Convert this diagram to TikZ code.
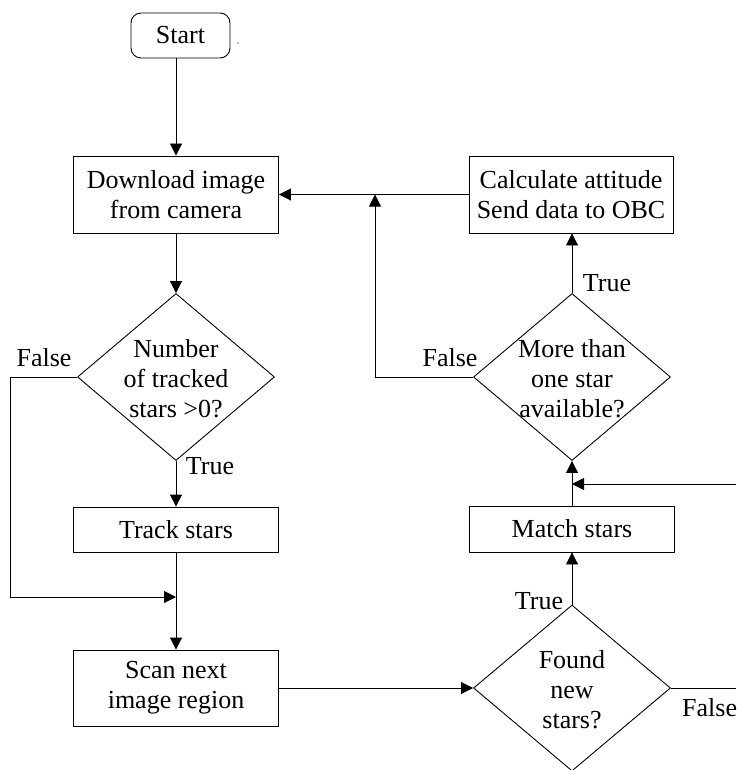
\documentclass[tikz,border=0pt]{standalone}
\usepackage{fontspec}
\setmainfont{Liberation Serif}
\usetikzlibrary{shapes.geometric,arrows.meta}
\begin{document}
\begin{tikzpicture}[x=1pt,y=-1pt,
  every node/.style={font=\fontsize{26}{30}\selectfont},
  box/.style={draw, line width=0.9pt, inner sep=0pt, align=center},
  dia/.style={draw, diamond, line width=0.9pt, inner sep=0pt, minimum width=197pt, minimum height=167pt},
  dtext/.style={inner sep=0pt, align=center},
  lbl/.style={inner sep=0pt},
  conn/.style={line width=0.9pt},
  arr/.style={conn, -{Triangle[length=12pt,width=12pt]}}]
\useasboundingbox (0,0) rectangle (736,770);

% nodes
\node[box, rounded corners=10pt, minimum width=99pt, minimum height=45pt] (start) at (180.5,35.5) {Start};
\node[box, minimum width=205pt, minimum height=77pt] (dl) at (176,194.5) {Download image\\from camera};
\node[dia] (d1) at (176,377) {};
\node[dtext] (d1t) at (176,379) {Number\\of tracked\\stars >0?};
\node[box, minimum width=205pt, minimum height=45pt] (track) at (176,529.5) {Track stars};
\node[box, minimum width=205pt, minimum height=76pt] (scan) at (176,688) {Scan next\\image region};

\node[box, minimum width=204pt, minimum height=77pt] (calc) at (571,194.5) {Calculate attitude\\Send data to OBC};
\node[dia] (more) at (572,377) {};
\node[dtext] (moret) at (572,379) {More than\\one star\\available?};
\node[box, minimum width=205pt, minimum height=46pt] (match) at (572,529) {Match stars};
\node[dia, minimum height=166pt] (found) at (572,688) {};
\node[dtext] (foundt) at (572,690) {Found\\new\\stars?};

% labels
\node[lbl] (f1) at (44,358) {False};
\node[lbl] (t1) at (210,466) {True};
\node[lbl] (t2) at (539,601) {True};
\node[lbl, anchor=west] (f2) at (682,708) {False};
\node[lbl] (t3) at (607,283) {True};
\node[lbl] (f3) at (450,358) {False};

% small mark
\fill (238,43) circle (0.7pt);

% connectors
\draw[arr] (dl.north |- start.south) -- (dl.north);
\draw[arr] (dl.south) -- (d1.north);
\draw[arr] (d1.south) -- (track.north);
\draw[arr] (track.south) -- (scan.north);
\coordinate (lj) at (176,597);
\coordinate (lc) at (10,377);
\draw[arr] (d1.west) -- (lc) |- (lj);
\draw[arr] (scan.east) -- (found.west);
\draw[arr] (found.north) -- (match.south);
\draw[arr] (match.north) -- (more.south);
\coordinate (re) at (736,484);
\draw[arr] (re) -- (re -| more.south);
\coordinate (fe) at (736,688);
\draw[conn] (found.east) -- (fe);
\draw[arr] (more.north) -- (more.north |- calc.south);
\draw[arr] (calc.west) -- (dl.east);
\coordinate (mj) at (375,194.5);
\draw[arr] (more.west) -| (mj);
\end{tikzpicture}
\end{document}
